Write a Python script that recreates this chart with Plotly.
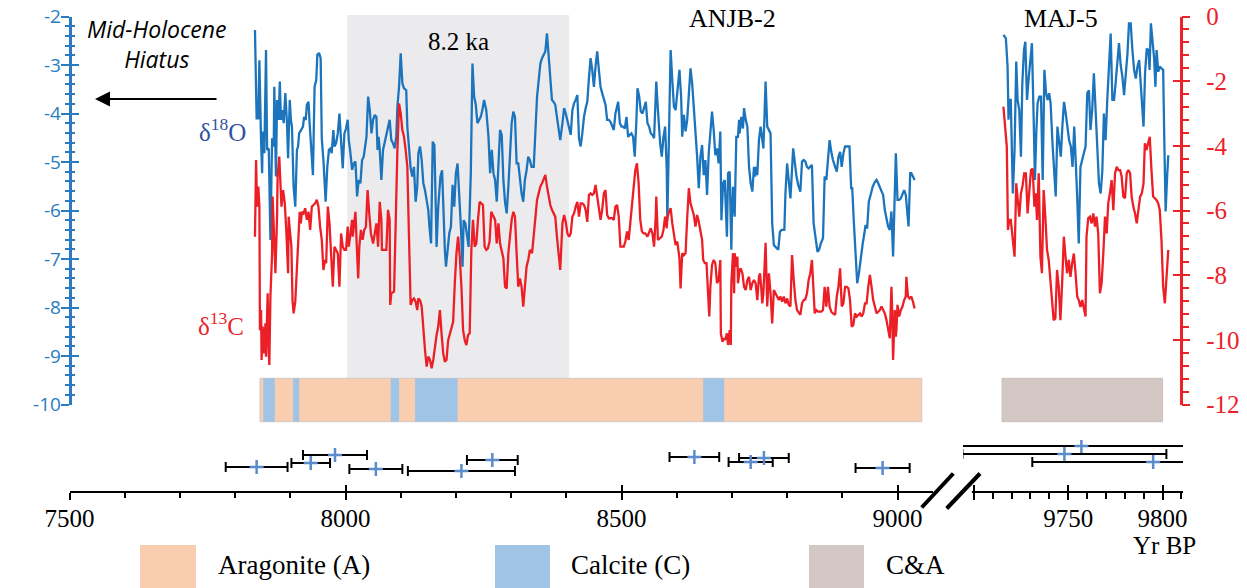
import plotly.graph_objects as go

W, H = 1247, 588

# ---------------- ANJB-2 stable isotopes ----------------
anjb_age_o = [
    7836, 7839, 7842, 7844, 7847, 7849, 7850, 7853, 7856, 7858, 7861, 7864, 7867, 7870, 7871, 7874,
    7876, 7879, 7881, 7883, 7885, 7888, 7891, 7894, 7896, 7899, 7901, 7903, 7906, 7909, 7912, 7914,
    7916, 7920, 7923, 7925, 7928, 7930, 7933, 7935, 7938, 7941, 7944, 7947, 7949, 7952, 7955, 7957,
    7960, 7964, 7967, 7970, 7973, 7975, 7978, 7980, 7983, 7986, 7989, 7992, 7995, 7998, 8001, 8004,
    8006, 8009, 8012, 8015,
    8018, 8021, 8024, 8027, 8030, 8033, 8035, 8038, 8041, 8044, 8047, 8050, 8053, 8056, 8058, 8060,
    8062, 8065, 8068, 8071, 8074, 8077, 8080, 8083, 8086, 8089, 8092, 8094, 8097, 8100, 8103, 8106,
    8110, 8112, 8115, 8118, 8121, 8124, 8127, 8130, 8132, 8135, 8138, 8141, 8144, 8147, 8150, 8152,
    8155, 8158, 8161, 8163, 8165, 8168, 8172, 8175, 8177, 8180, 8182, 8185, 8188, 8191, 8194, 8197,
    8200, 8203, 8206, 8209, 8212, 8214, 8217, 8220, 8223, 8227, 8230, 8233, 8236, 8239, 8242, 8245,
    8248, 8251, 8255, 8259, 8262, 8265, 8268, 8271, 8274, 8277, 8280, 8283, 8286, 8289, 8292, 8295,
    8298, 8301, 8304, 8307, 8310, 8313, 8316, 8319, 8322, 8325, 8328, 8331, 8334, 8337,
    8341, 8344, 8347, 8350, 8353, 8356, 8359, 8362, 8365, 8368, 8371, 8374, 8377, 8380, 8383, 8386,
    8389, 8393, 8396, 8399, 8402, 8405, 8408, 8411, 8414, 8417, 8420, 8423, 8426, 8429, 8432, 8435,
    8438, 8441, 8444, 8447, 8450, 8453, 8456, 8459, 8462, 8465, 8468, 8471, 8474, 8477, 8480, 8483,
    8486, 8489, 8492, 8494, 8497, 8500, 8503, 8506, 8509, 8512, 8515, 8518, 8521, 8524, 8527, 8529,
    8532, 8535, 8538, 8541, 8544, 8547, 8550, 8553, 8556, 8559, 8562, 8563, 8566, 8570, 8573, 8576,
    8579, 8582, 8583, 8586, 8589, 8592, 8595, 8598, 8601, 8605, 8608, 8610, 8613, 8616, 8619, 8622,
    8625, 8628, 8631, 8634, 8637, 8640, 8643, 8646, 8649, 8652, 8655, 8658, 8661, 8664, 8667, 8670,
    8673, 8676, 8679, 8681, 8684, 8687,
    8691, 8693, 8696, 8699, 8700, 8702, 8705, 8707, 8708, 8711, 8713, 8714, 8717, 8720, 8722, 8725,
    8728, 8731, 8734, 8737, 8740, 8742, 8744, 8746, 8749, 8752, 8755, 8757, 8759, 8761, 8764, 8767,
    8770, 8773, 8776, 8779, 8784, 8787, 8790, 8795, 8797, 8800, 8803, 8806, 8811, 8814, 8817, 8820,
    8824, 8827, 8830, 8833, 8836, 8839, 8842, 8845, 8848, 8851, 8855, 8858, 8861, 8865, 8868, 8871,
    8874, 8877, 8880, 8883, 8887, 8890, 8893, 8896, 8899, 8902, 8905, 8909, 8913, 8916, 8918, 8921,
    8924, 8927, 8930, 8934, 8937, 8940, 8942, 8945, 8948, 8952, 8955, 8959, 8962, 8965, 8968, 8971,
    8974, 8977, 8980, 8983, 8986, 8989, 8992, 8994, 8997, 9000, 9003, 9006, 9009, 9012, 9015, 9018,
    9020, 9023, 9025, 9028, 9031,
]
anjb_d18o = [
    -2.28, -4.10, -4.10, -2.90, -4.55, -5.23, -4.37, -4.82, -2.69, -4.75, -4.72, -6.61, -4.51, -4.68, -3.45, -5.30,
    -3.72, -4.13, -3.34, -4.13, -3.93, -4.20, -3.58, -4.20, -4.92, -3.72, -4.13, -4.27, -5.51, -5.92, -4.75, -4.68,
    -4.41, -4.34, -4.27, -4.07, -4.13, -3.82, -3.76, -4.20, -4.68, -5.27, -3.45, -3.31, -2.79, -2.75, -2.86, -4.51,
    -4.96, -5.82, -5.10, -4.75, -4.72, -4.82, -4.34, -4.68, -4.61, -4.41, -4.00, -4.55, -5.13, -4.41, -4.31, -4.13,
    -4.55, -4.82, -5.16, -5.03,
    -4.99, -5.71, -5.37, -5.44, -4.96, -4.89, -4.68, -4.48, -3.65, -3.93, -4.41, -4.13, -4.03, -4.07, -4.75, -4.48,
    -4.75, -5.37, -4.75, -4.61, -4.41, -4.27, -4.13, -4.55, -4.61, -4.72, -4.48, -3.86, -3.45, -2.76, -3.38, -3.48,
    -3.52, -4.27, -4.82, -5.13, -5.30, -5.10, -5.82, -5.51, -4.82, -4.68, -4.96, -5.44, -5.58, -5.78, -5.99, -6.33,
    -6.68, -4.58, -4.65, -5.65, -6.75, -5.92, -5.30, -5.17, -5.92, -6.81, -7.16, -6.75, -6.47, -6.33, -5.47, -5.92,
    -5.23, -5.03, -5.58, -6.33, -7.16, -6.20, -6.26, -6.47, -6.75, -5.23, -2.97, -3.65, -3.82, -4.20, -4.13, -4.07,
    -3.93, -3.72, -3.93, -4.48, -5.23, -4.75, -5.23, -5.37, -5.82, -5.03, -4.34, -4.44, -5.37, -5.82, -6.06, -5.51,
    -4.96, -4.20, -3.96, -4.07, -5.03, -5.03, -5.34, -5.65, -5.82, -5.37, -5.17, -4.89, -4.96, -5.10,
    -5.10, -4.34, -3.65, -3.31, -2.97, -2.86, -2.79, -2.72, -2.35, -2.76, -3.31, -3.72, -3.76, -3.82, -4.07, -4.27,
    -4.55, -4.20, -3.89, -4.00, -4.13, -4.27, -4.44, -3.93, -3.79, -3.72, -3.62, -4.51, -4.68, -4.41, -4.07, -3.89,
    -3.76, -3.27, -2.86, -3.10, -3.45, -3.03, -2.72, -3.10, -3.45, -3.58, -3.72, -3.82, -4.13, -4.13, -4.17, -4.27,
    -4.34, -4.00, -3.86, -3.76, -4.20, -4.27, -4.27, -4.31, -4.07, -4.48, -4.44, -4.41, -4.48, -4.89, -4.13, -3.48,
    -3.65, -3.96, -4.00, -3.86, -3.76, -4.20, -4.27, -4.41, -4.44, -4.51, -3.79, -3.34, -3.93, -4.61, -4.89, -4.48,
    -4.27, -5.17, -6.20, -4.00, -2.69, -3.31, -3.86, -3.93, -3.52, -3.10, -3.65, -4.48, -4.03, -4.37, -4.13, -3.45,
    -3.07, -3.38, -3.86, -4.34, -4.89, -5.54, -4.89, -4.65, -5.27, -4.96, -5.68, -4.82, -4.41, -3.96, -4.34, -4.86,
    -4.72, -5.03, -4.37, -6.20, -5.44, -5.37,
    -6.54, -5.23, -5.20, -6.81, -6.13, -5.51, -6.13, -4.96, -4.48, -4.48, -4.13, -4.41, -4.07, -4.31, -3.89, -4.13,
    -4.27, -5.10, -5.44, -5.61, -5.10, -5.30, -5.10, -5.27, -4.55, -4.27, -4.61, -4.72, -4.07, -3.34, -4.27, -4.34,
    -4.41, -6.26, -6.71, -6.75, -6.81, -6.44, -6.40, -6.40, -5.65, -5.03, -5.34, -5.75, -4.72, -5.03, -5.30, -5.47,
    -5.61, -4.99, -4.96, -4.99, -5.10, -5.13, -5.10, -5.06, -6.26, -6.54, -6.85, -6.81, -6.68, -6.57, -5.30, -5.37,
    -4.99, -4.55, -4.79, -4.96, -5.10, -5.20, -4.89, -4.79, -5.10, -4.82, -4.68, -4.68, -4.68, -5.54, -5.54, -6.26,
    -6.88, -7.50, -7.30, -6.88, -6.68, -6.47, -6.30, -6.37, -5.82, -5.65, -5.51, -5.41, -5.37, -5.44, -5.51, -5.58,
    -5.68, -5.99, -6.13, -6.33, -6.40, -6.02, -6.95, -6.20, -4.82, -5.78, -5.78, -5.75, -5.65, -5.58, -5.68, -6.06,
    -6.33, -5.23, -5.23, -5.30, -5.37,
]

anjb_age_c = [
    7836, 7838, 7839, 7841, 7842, 7844, 7845, 7847, 7848, 7850, 7852, 7855, 7856, 7859, 7861, 7862,
    7864, 7867, 7868, 7870, 7873, 7876, 7877, 7880, 7882, 7884, 7887, 7890, 7893, 7896, 7897, 7900,
    7902, 7904, 7906, 7909, 7912, 7915, 7917, 7919, 7921, 7924, 7927, 7930, 7933, 7936, 7939, 7942,
    7945, 7948, 7951, 7954, 7957, 7960, 7963, 7965, 7968, 7971, 7974, 7977, 7980, 7983, 7986, 7989,
    7992, 7995, 7998, 8001, 8004, 8006, 8009, 8012, 8013, 8016,
    8018, 8021, 8023, 8025, 8028, 8031, 8034, 8037, 8040, 8043, 8046, 8050, 8053, 8056, 8059, 8062,
    8065, 8066, 8069, 8074, 8077, 8080, 8081, 8083, 8088, 8091, 8094, 8097, 8100, 8103, 8106, 8109,
    8112, 8115, 8118, 8121, 8124, 8127, 8130, 8132, 8135, 8138, 8141, 8144, 8147, 8150, 8153, 8156,
    8159, 8162, 8165, 8168, 8171, 8174, 8177, 8180, 8183, 8186, 8189, 8192, 8195, 8198, 8201, 8204,
    8207, 8210, 8213, 8216, 8219, 8222, 8225, 8228, 8231, 8234, 8237, 8240, 8243, 8246, 8249, 8252,
    8255, 8258, 8261, 8264, 8268, 8271, 8274, 8277, 8280, 8283, 8286, 8289, 8292, 8295, 8298, 8301,
    8304, 8307, 8310, 8313, 8316, 8319, 8322, 8325, 8328, 8331, 8334,
    8338, 8341, 8344, 8347, 8350, 8353, 8356, 8359, 8362, 8365, 8368, 8371, 8374, 8377, 8380, 8383,
    8386, 8389, 8393, 8396, 8399, 8402, 8405, 8408, 8411, 8414, 8417, 8420, 8423, 8426, 8429, 8432,
    8435, 8438, 8441, 8444, 8447, 8450, 8453, 8456, 8459, 8462, 8465, 8468, 8471, 8474, 8477, 8480,
    8483, 8486, 8489, 8492, 8495, 8498, 8501, 8504, 8507, 8510, 8513, 8516, 8519, 8522, 8525, 8528,
    8531, 8534, 8537, 8540, 8543, 8547, 8550, 8553, 8556, 8559, 8562, 8563, 8566, 8570, 8573, 8576,
    8579, 8582, 8583, 8586, 8589, 8592, 8595, 8598, 8601, 8605, 8607, 8610, 8613, 8616, 8619, 8622,
    8625, 8628, 8631, 8634, 8637, 8640, 8643, 8646, 8648, 8651, 8654, 8657, 8659, 8661, 8664, 8667,
    8670, 8673, 8676, 8679, 8680, 8683, 8686, 8688, 8691, 8693, 8696, 8698, 8699, 8702, 8704, 8705,
    8708, 8710, 8711, 8714, 8716, 8719, 8722, 8725, 8728, 8731, 8734, 8737, 8740, 8743, 8746, 8749,
    8751, 8753, 8755, 8757, 8759, 8761, 8764, 8767, 8770, 8773, 8776, 8779, 8782, 8785, 8788, 8791,
    8794, 8797, 8800, 8803, 8806, 8809, 8812, 8815, 8818, 8821, 8824, 8827, 8830, 8833, 8836, 8839,
    8842, 8845, 8847, 8850, 8853, 8856, 8859, 8862, 8865, 8868, 8871, 8874, 8877, 8880, 8883, 8887,
    8890, 8893, 8896, 8899, 8902, 8905, 8908, 8911, 8914, 8917, 8920, 8923, 8926, 8929, 8932, 8935,
    8938, 8941, 8944, 8947, 8950, 8953, 8956, 8959, 8962, 8965, 8968, 8971, 8974, 8977, 8980, 8983,
    8986, 8989, 8990, 8992, 8995, 8997, 8998, 9000, 9003, 9006, 9009, 9012, 9015, 9016, 9019, 9022,
    9025, 9028, 9031,
]
anjb_d13c = [
    -6.81, -4.44, -5.26, -5.88, -5.26, -5.88, -9.70, -9.08, -10.62, -9.59, -10.42, -9.49, -10.52, -8.56, -10.42, -10.78,
    -8.66, -7.32, -5.57, -6.50, -7.94, -6.19, -4.95, -4.33, -4.95, -5.88, -5.37, -5.78, -6.71, -7.94, -6.19, -6.71,
    -7.12, -8.77, -9.18, -8.82, -7.84, -6.71, -6.04, -6.40, -6.04, -6.09, -5.93, -6.29, -6.04, -6.60, -5.88, -5.83,
    -5.78, -5.67, -5.88, -6.50, -6.91, -7.84, -7.53, -7.63, -5.88, -6.40, -7.53, -8.36, -7.12, -7.22, -7.32, -8.36,
    -6.71, -7.12, -7.22, -7.22, -6.50, -7.12, -6.71, -6.29, -6.81, -6.19,
    -6.04, -7.32, -8.10, -7.12, -6.60, -6.91, -6.60, -6.50, -5.37, -6.09, -6.71, -7.02, -6.76, -6.40, -7.12, -5.73,
    -6.29, -7.22, -7.22, -7.22, -5.98, -6.29, -8.92, -8.56, -8.51, -6.19, -4.13, -2.69, -3.00, -3.51, -3.72, -4.13,
    -4.64, -6.81, -8.92, -8.77, -8.72, -8.82, -9.08, -8.72, -8.77, -8.97, -9.70, -10.31, -10.83, -10.52, -10.62, -10.88,
    -10.62, -10.21, -9.85, -9.59, -9.08, -9.80, -10.42, -10.68, -10.62, -10.01, -9.80, -9.59, -9.44, -8.25, -7.32, -6.81,
    -7.43, -8.36, -9.70, -10.01, -10.16, -9.85, -9.80, -7.22, -6.29, -7.12, -7.02, -6.29, -5.73, -5.78, -5.83, -7.12,
    -7.22, -7.17, -6.96, -6.04, -6.19, -6.29, -7.02, -6.40, -7.02, -7.22, -7.48, -8.36, -8.41, -7.32, -6.81, -6.29,
    -6.04, -6.19, -7.32, -8.36, -8.10, -8.36, -8.97, -8.36, -7.74, -7.53, -7.22,
    -7.32, -6.71, -6.19, -5.67, -5.47, -5.26, -5.16, -5.01, -4.90, -5.26, -5.57, -5.83, -5.98, -6.09, -6.19, -6.81,
    -7.32, -7.84, -6.40, -6.14, -6.35, -6.71, -6.81, -6.71, -6.19, -6.09, -5.88, -5.73, -6.19, -5.78, -5.78, -5.83,
    -5.98, -6.35, -5.52, -5.47, -5.52, -5.47, -5.21, -5.57, -6.04, -6.29, -5.98, -5.47, -5.37, -6.14, -6.24, -6.24,
    -6.24, -6.29, -5.88, -5.83, -6.19, -7.12, -7.12, -7.12, -6.96, -6.65, -6.91, -6.40, -5.88, -5.26, -4.75, -4.54,
    -5.16, -6.29, -6.65, -6.71, -6.71, -6.81, -6.65, -6.55, -6.71, -7.12, -6.19, -5.57, -6.91, -6.86, -6.81, -6.60,
    -6.19, -6.55, -6.24, -6.04, -5.93, -6.40, -6.71, -7.07, -6.96, -7.48, -8.41, -7.32, -7.38, -7.32, -6.24, -5.31,
    -5.78, -5.93, -6.14, -6.50, -6.14, -6.35, -6.71, -6.91, -7.53, -7.63, -7.63, -8.51, -9.28, -8.36, -7.69, -7.53,
    -7.63, -8.25, -8.15, -7.53, -9.80, -10.06, -9.95, -10.00, -9.80, -10.16, -9.70, -10.16, -8.25, -7.32, -8.56, -7.32,
    -7.74, -7.43, -8.25, -7.84, -7.79, -7.94, -8.36, -8.46, -8.15, -8.05, -8.46, -8.25, -8.15, -8.25, -8.77, -8.05,
    -7.94, -8.36, -8.87, -8.56, -7.94, -7.00, -8.97, -7.94, -8.56, -9.49, -8.46, -8.56, -8.66, -8.77, -8.66, -8.82,
    -8.66, -8.87, -8.72, -8.92, -8.97, -7.38, -8.15, -8.77, -9.08, -9.18, -9.23, -8.87, -8.77, -8.75, -8.56, -8.15,
    -7.94, -7.53, -8.36, -9.18, -9.08, -9.13, -9.13, -9.13, -9.08, -8.36, -8.97, -8.36, -8.97, -9.13, -9.18, -9.23,
    -8.66, -8.36, -7.79, -8.97, -8.87, -8.36, -8.36, -8.41, -8.77, -9.59, -9.54, -9.18, -9.28, -9.23, -9.18, -9.28,
    -9.18, -8.87, -8.87, -8.36, -7.99, -8.36, -8.77, -8.97, -9.18, -9.13, -9.08, -8.97, -9.08, -9.18, -9.39, -9.70,
    -9.95, -8.36, -8.87, -10.62, -9.08, -9.90, -9.70, -8.92, -9.28, -9.08, -8.97, -8.77, -8.66, -8.05, -8.66, -8.72,
    -8.66, -8.82, -9.03,
]

# ---------------- MAJ-5 stable isotopes ----------------
maj_age_o = [
    9715.7, 9717.0, 9717.9, 9718.4, 9718.9, 9719.6, 9720.7, 9721.6, 9722.5, 9723.2, 9724.1, 9725.0,
    9725.7, 9726.6, 9727.3, 9728.2, 9729.0, 9729.9, 9730.8, 9731.7, 9732.4, 9733.1, 9733.8, 9734.7,
    9735.6, 9736.5, 9737.4, 9738.3, 9739.1, 9739.9, 9740.7, 9741.6, 9742.5, 9743.4, 9744.3, 9745.2,
    9746.1, 9746.9, 9747.8, 9748.7, 9749.6, 9750.5, 9751.4, 9752.3, 9753.2, 9754.0, 9754.7, 9755.6,
    9756.5, 9757.4, 9758.3, 9759.2, 9760.1, 9761.0, 9761.8, 9762.7, 9763.6, 9764.5, 9765.4, 9766.3,
    9767.2, 9768.1, 9768.9, 9769.8, 9770.7, 9771.6, 9772.5, 9773.4, 9774.3, 9775.1, 9776.0, 9776.9,
    9777.8, 9778.7, 9779.6, 9780.5, 9781.4, 9782.2, 9783.1, 9784.0, 9784.9, 9785.8, 9786.7, 9787.6,
    9788.4, 9789.3, 9789.9, 9790.7, 9791.6, 9792.5, 9793.1, 9793.8, 9794.6, 9795.5, 9796.2, 9796.8,
    9797.7, 9798.5, 9799.4, 9800.3, 9800.9, 9801.6, 9802.4, 9803.0,
]
maj_d18o = [
    -2.38, -2.45, -3.03, -4.13, -3.72, -3.72, -5.65, -4.75, -2.93, -3.72, -3.93, -4.89,
    -3.38, -2.69, -2.52, -3.72, -3.31, -2.90, -2.55, -4.07, -5.37, -4.41, -3.79, -3.65,
    -3.65, -5.37, -3.10, -3.58, -3.72, -3.58, -3.79, -4.55, -5.23, -5.71, -4.27, -4.55,
    -4.89, -4.27, -3.76, -4.00, -4.27, -4.55, -4.68, -5.10, -4.27, -4.89, -5.65, -6.68,
    -5.10, -4.96, -4.82, -4.68, -3.58, -3.52, -4.34, -3.93, -3.17, -3.93, -4.75, -5.44,
    -5.65, -5.17, -4.00, -4.55, -3.72, -2.97, -2.35, -3.72, -3.72, -3.38, -2.90, -2.55,
    -3.00, -3.24, -3.62, -3.17, -2.76, -2.14, -2.14, -2.69, -3.10, -3.28, -3.03, -2.90,
    -3.38, -3.79, -4.27, -3.17, -2.66, -2.69, -3.10, -2.14, -2.48, -2.86, -3.45, -2.69,
    -3.14, -3.03, -3.07, -3.10, -4.55, -6.02, -5.30, -4.86,
]
maj_age_c = [
    9715.7, 9716.6, 9717.5, 9718.1, 9718.8, 9719.6, 9720.5, 9721.6, 9722.5, 9723.2, 9724.1, 9725.0,
    9725.9, 9726.7, 9727.6, 9728.5, 9729.4, 9730.3, 9731.2, 9732.1, 9732.8, 9733.5, 9734.4, 9735.3,
    9736.1, 9737.0, 9737.9, 9738.8, 9739.7, 9740.6, 9741.5, 9742.3, 9743.2, 9744.1, 9745.0, 9745.9,
    9746.8, 9747.7, 9748.6, 9749.4, 9750.3, 9751.2, 9752.1, 9753.0, 9753.9, 9754.8, 9755.6, 9756.5,
    9757.4, 9758.3, 9759.2, 9759.7, 9760.6, 9761.5, 9762.4, 9763.3, 9764.2, 9765.0, 9765.9, 9766.8,
    9767.7, 9768.6, 9769.5, 9770.4, 9771.2, 9772.1, 9773.0, 9773.9, 9774.8, 9775.7, 9776.6, 9777.5,
    9778.3, 9779.2, 9780.1, 9781.0, 9781.9, 9782.8, 9783.6, 9784.5, 9785.4, 9786.3, 9787.2, 9788.1,
    9789.0, 9789.9, 9790.6, 9791.5, 9792.3, 9793.2, 9794.1, 9795.0, 9795.9, 9796.8, 9797.7, 9798.5,
    9799.4, 9800.3, 9801.2, 9802.1, 9803.0,
]
maj_d13c = [
    -2.79, -3.41, -4.03, -6.60, -6.29, -6.29, -6.81, -7.43, -5.16, -5.68, -6.19, -5.47,
    -5.21, -4.85, -4.85, -6.09, -5.37, -4.75, -4.70, -5.88, -5.47, -6.29, -4.85, -7.43,
    -7.94, -5.37, -6.19, -7.22, -7.53, -8.25, -8.98, -9.39, -9.34, -7.84, -8.36, -9.39,
    -8.25, -6.81, -7.43, -7.94, -7.53, -8.05, -7.63, -7.33, -7.94, -8.67, -8.77, -8.98,
    -8.77, -9.08, -9.28, -6.81, -6.24, -6.19, -6.40, -6.09, -6.50, -6.19, -6.71, -8.56,
    -8.25, -7.33, -6.19, -6.71, -5.78, -5.47, -5.06, -5.99, -4.85, -4.65, -4.75, -4.75,
    -4.95, -5.57, -5.62, -4.85, -4.75, -4.85, -5.57, -5.88, -6.09, -6.40, -5.88, -5.57,
    -5.47, -5.16, -3.92, -4.13, -3.92, -3.72, -4.75, -5.57, -5.62, -5.68, -5.78, -5.99,
    -6.91, -8.36, -8.87, -8.05, -7.22,
]

# ---------------- U-Th ages (2 sigma) ----------------
anjb_date_age = [7981, 7937, 7839, 8055, 8210, 8266, 8632, 8758, 8734, 8973]
anjb_date_err = [58, 35, 56, 48, 97, 46, 45, 45, 40, 49]
maj_date_age = [9757, 9748, 9795]
maj_date_err = [80, 54, 64]
# vertical stacking lanes for the date bars (px below the lane strip top)
anjb_date_lane = [15, 23, 27, 29, 31, 20, 17, 18, 22, 28]
maj_date_lane = [6, 14, 22]

# ---------------- mineralogy & event window ----------------
aragonite_span = [7845, 9044]
calcite_spans = [[7851, 7872], [7905, 7916], [8082, 8097], [8126, 8203], [8648, 8686]]
mixed_span = [9715, 9800]
event_window = [8003, 8405]

# axis ticks
d18o_ticks = [-2, -3, -4, -5, -6, -7, -8, -9, -10]
d13c_ticks = [0, -2, -4, -6, -8, -10, -12]
anjb_year_ticks = [7500, 8000, 8500, 9000]
maj_year_ticks = [9700, 9750, 9800]
maj_year_labels = ["", "9750", "9800"]

# ---------------- styling ----------------
SERIF = "Liberation Serif"
SANS = "Open Sans"
BLUE = "#1c75bc"
BLUE_AX = "#2a7bbf"
RED = "#ec1f26"
RED_AX = "#ec2229"
ARAG = "#f8cdb0"
CALC = "#a0c4e6"
MIXED = "#d4c8c5"
SHADE = "#ebebee"


def fx(p):
    return p / W


def fy(p):
    return 1 - p / H


X_AXIS_Y = fy(492)
Y_DOMAIN = [fy(404.5), fy(16.5)]
X1_RANGE = [7500, 9064.3]
X2_RANGE = [9694.3, 9810.8]

fig = go.Figure()

line_o = dict(color=BLUE, width=2.3)
line_c = dict(color=RED, width=2.3)
fig.add_trace(go.Scatter(x=anjb_age_o, y=anjb_d18o, mode="lines", line=line_o, xaxis="x", yaxis="y"))
fig.add_trace(go.Scatter(x=maj_age_o, y=maj_d18o, mode="lines", line=line_o, xaxis="x2", yaxis="y"))
fig.add_trace(go.Scatter(x=anjb_age_c, y=anjb_d13c, mode="lines", line=line_c, xaxis="x", yaxis="y2"))
fig.add_trace(go.Scatter(x=maj_age_c, y=maj_d13c, mode="lines", line=line_c, xaxis="x2", yaxis="y2"))

date_marker = dict(symbol="cross-thin", size=10, color="#5a8bcb", line=dict(width=2.5, color="#5a8bcb"))
date_err = dict(color="black", thickness=2, width=5)
fig.add_trace(go.Scatter(x=anjb_date_age, y=anjb_date_lane, mode="markers", marker=date_marker,
                         error_x=dict(type="data", array=anjb_date_err, **date_err),
                         xaxis="x", yaxis="y3"))
fig.add_trace(go.Scatter(x=maj_date_age, y=maj_date_lane, mode="markers", marker=date_marker,
                         error_x=dict(type="data", array=maj_date_err, **date_err),
                         xaxis="x2", yaxis="y3"))

# empty traces so the tick-only overlay axes get drawn
for xa, ya in [("x3", "y"), ("x4", "y"), ("x", "y4"), ("x", "y5")]:
    fig.add_trace(go.Scatter(x=[None], y=[None], xaxis=xa, yaxis=ya, hoverinfo="skip"))


def minor_vals(start, step, n, every):
    return [round(start + step * i, 2) for i in range(n) if i % every != 0]


common = dict(showgrid=False, zeroline=False, automargin=False, fixedrange=True)

layout = dict(
    width=W, height=H, margin=dict(l=0, r=0, t=0, b=0),
    template="none", showlegend=False,
    paper_bgcolor="white", plot_bgcolor="rgba(0,0,0,0)",
    xaxis=dict(domain=[fx(69.5), fx(933)], range=X1_RANGE, anchor="free", position=X_AXIS_Y,
               showline=True, linecolor="black", linewidth=2,
               tickmode="array", tickvals=anjb_year_ticks, ticktext=[str(v) for v in anjb_year_ticks],
               ticks="outside", ticklen=7, tickwidth=2, tickcolor="black",
               tickfont=dict(family=SERIF, size=25, color="black"), ticklabelstandoff=-3,
               minor=dict(tickmode="array", tickvals=minor_vals(7500, 100, 16, 5), ticks="outside",
                          ticklen=5, tickwidth=2, tickcolor="black", showgrid=False),
               **common),
    xaxis3=dict(overlaying="x", range=X1_RANGE, anchor="free", position=X_AXIS_Y, showline=False,
                tickmode="array", tickvals=anjb_year_ticks, showticklabels=False,
                ticks="inside", ticklen=7, tickwidth=2, tickcolor="black", **common),
    xaxis2=dict(domain=[fx(963), fx(1183)], range=X2_RANGE, anchor="free", position=X_AXIS_Y,
                showline=False,
                tickmode="array", tickvals=maj_year_ticks, ticktext=maj_year_labels,
                ticks="outside", ticklen=7, tickwidth=2, tickcolor="black",
                tickfont=dict(family=SERIF, size=25, color="black"), ticklabelstandoff=-3,
                minor=dict(tickmode="array", tickvals=minor_vals(9700, 10, 12, 5), ticks="outside",
                           ticklen=6, tickwidth=2, tickcolor="black", showgrid=False),
                **common),
    xaxis4=dict(overlaying="x2", range=X2_RANGE, anchor="free", position=X_AXIS_Y, showline=False,
                tickmode="array", tickvals=maj_year_ticks, showticklabels=False,
                ticks="inside", ticklen=7, tickwidth=2, tickcolor="black", **common),
    yaxis=dict(domain=Y_DOMAIN, range=[-10, -2], anchor="free", position=fx(69.5), side="left",
               showline=True, linecolor=BLUE_AX, linewidth=2.5,
               tickmode="array", tickvals=d18o_ticks, ticktext=[str(v) for v in d18o_ticks],
               ticks="outside", ticklen=8, tickwidth=2, tickcolor=BLUE_AX,
               tickfont=dict(family=SANS, size=19, color=BLUE_AX), ticklabelstandoff=-4,
               minor=dict(tickmode="array", tickvals=minor_vals(-2, -0.2, 41, 5), ticks="outside",
                          ticklen=4, tickwidth=2, tickcolor=BLUE_AX, showgrid=False),
               **common),
    yaxis4=dict(overlaying="y", range=[-10, -2], anchor="free", position=fx(69.5), side="left",
                showline=False, tickmode="array", tickvals=d18o_ticks, showticklabels=False,
                ticks="inside", ticklen=8, tickwidth=2, tickcolor=BLUE_AX,
                minor=dict(tickmode="array", tickvals=minor_vals(-2, -0.2, 41, 5), ticks="inside",
                           ticklen=4, tickwidth=2, tickcolor=BLUE_AX, showgrid=False),
                **common),
    yaxis2=dict(overlaying="y", range=[-12, 0], anchor="free", position=fx(1180.5), side="right",
                showline=True, linecolor=RED_AX, linewidth=2.5,
                tickmode="array", tickvals=d13c_ticks, ticktext=[str(v) for v in d13c_ticks],
                ticks="outside", ticklen=8, tickwidth=2, tickcolor=RED_AX,
                tickfont=dict(family=SERIF, size=25, color=RED_AX), ticklabelstandoff=11,
                minor=dict(tickmode="array", tickvals=minor_vals(0, -0.4, 31, 5), ticks="outside",
                           ticklen=7, tickwidth=2, tickcolor=RED_AX, showgrid=False),
                **common),
    yaxis5=dict(overlaying="y", range=[-12, 0], anchor="free", position=fx(1180.5), side="right",
                showline=False, tickmode="array", tickvals=d13c_ticks, showticklabels=False,
                ticks="inside", ticklen=8, tickwidth=2, tickcolor=RED_AX, **common),
    yaxis3=dict(domain=[fy(480), fy(440)], range=[40, 0], visible=False, anchor="x", **common),
)
fig.update_layout(**layout)

shapes = []
# 8.2 ka event band
shapes.append(dict(type="rect", xref="x", yref="paper", x0=event_window[0], x1=event_window[1],
                   y0=fy(378.3), y1=fy(15), fillcolor=SHADE, line=dict(width=0), layer="below"))
# mineralogy strip
BAR_Y0, BAR_Y1 = fy(421.7), fy(378.3)
shapes.append(dict(type="rect", xref="x", yref="paper", x0=aragonite_span[0], x1=aragonite_span[1],
                   y0=BAR_Y0, y1=BAR_Y1, fillcolor=ARAG, line=dict(width=1, color="#d0c8c4"), layer="below"))
for a, b in calcite_spans:
    shapes.append(dict(type="rect", xref="x", yref="paper", x0=a, x1=b, y0=BAR_Y0, y1=BAR_Y1,
                       fillcolor=CALC, line=dict(width=0), layer="below"))
shapes.append(dict(type="rect", xref="x2", yref="paper", x0=mixed_span[0], x1=mixed_span[1],
                   y0=BAR_Y0, y1=BAR_Y1, fillcolor=MIXED, line=dict(width=1, color="#cbbfbc"), layer="below"))
# second age-axis baseline (starts right of the break)
shapes.append(dict(type="line", xref="x2", yref="paper", x0=9699, x1=X2_RANGE[1],
                   y0=X_AXIS_Y, y1=X_AXIS_Y, line=dict(color="black", width=2)))
# axis break marks
for x0, y0, x1, y1 in [(921.7, 507.5, 953.3, 473.5), (946.7, 508.5, 980, 473.5)]:
    shapes.append(dict(type="line", xref="paper", yref="paper", x0=fx(x0), y0=fy(y0), x1=fx(x1), y1=fy(y1),
                       line=dict(color="black", width=4)))
# legend swatches
for x0, x1, col in [(140, 196, ARAG), (495, 550, CALC), (809, 864, MIXED)]:
    shapes.append(dict(type="rect", xref="paper", yref="paper", x0=fx(x0), x1=fx(x1), y0=fy(592), y1=fy(545),
                       fillcolor=col, line=dict(width=0)))
fig.update_layout(shapes=shapes)

ann = []


def text(x, y, s, size=25, color="black", family=SERIF, xanchor="center"):
    ann.append(dict(x=fx(x), y=fy(y), xref="paper", yref="paper", text=s, showarrow=False,
                    xanchor=xanchor, yanchor="middle", font=dict(family=family, size=size, color=color)))


text(156, 44, "<i>Mid-Holocene<br>Hiatus</i>", size=23, family=SANS)
text(222, 130, "δ<sup>18</sup>O", color="#33519f")
text(221, 324, "δ<sup>13</sup>C", color="#e8242b")
text(458, 41, "8.2 ka")
text(732, 18, "ANJB-2", size=26)
text(1061, 18, "MAJ-5", size=26)
text(1164, 545, "Yr BP")
text(216, 565, "Aragonite (A)", size=27, xanchor="left")
text(569, 565, "Calcite (C)", size=27, xanchor="left")
text(884, 565, "C&A", size=27, xanchor="left")

# hiatus arrow
ann.append(dict(x=fx(95), y=fy(99), xref="paper", yref="paper", ax=123, ay=0, axref="pixel", ayref="pixel",
                text="", showarrow=True, arrowhead=2, arrowsize=1.5, arrowwidth=2, arrowcolor="black"))
fig.update_layout(annotations=ann)

fig.write_html("out.html")
